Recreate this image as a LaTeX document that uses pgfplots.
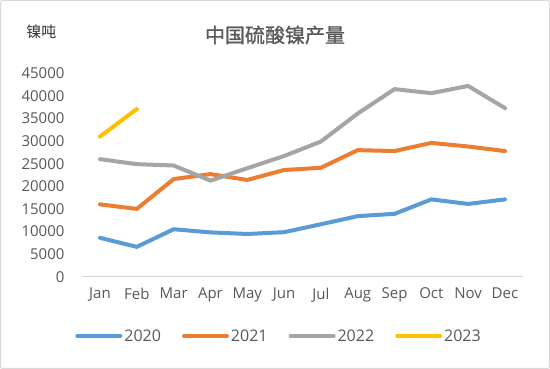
\documentclass[border=0pt]{standalone}
\usepackage{pgfplots}
\pgfplotsset{compat=1.18}
\usepackage{fontspec}
\setmainfont{Open Sans}
\newfontfamily\cjk{Noto Sans CJK SC}
\newfontfamily\cjkt[FakeBold=1.2]{Noto Sans CJK SC}
\definecolor{c2020}{HTML}{5B9BD5}
\definecolor{c2021}{HTML}{ED7D31}
\definecolor{c2022}{HTML}{A5A5A5}
\definecolor{c2023}{HTML}{FFC000}
\definecolor{txt}{HTML}{595959}
\definecolor{axl}{HTML}{D9D9D9}
\begin{document}
\begin{tikzpicture}[x=1pt,y=1pt]
\draw[fill=white, draw=axl, line width=1pt, rounded corners=2pt] (0.5,0.5) rectangle (549.5,368.5);
\node[text=txt, font=\cjkt\fontsize{20}{24}\selectfont] at (275,334) {中国硫酸镍产量};
\node[text=black!80, font=\cjk\fontsize{15}{18}\selectfont] at (41.5,337) {镍吨};
\begin{axis}[
  at={(81.6pt,92.3pt)}, anchor=south west,
  scale only axis, width=441.8pt, height=203.4pt,
  xmin=-0.5, xmax=11.5, ymin=0, ymax=45000,
  xtick={0,...,11},
  xticklabels={Jan,Feb,Mar,Apr,May,Jun,Jul,Aug,Sep,Oct,Nov,Dec},
  ytick={0,5000,...,45000},
  /pgf/number format/1000 sep={},
  /pgf/number format/assume math mode=true,
  scaled y ticks=false,
  axis x line*=bottom, axis y line*=left,
  x axis line style={draw=axl, line width=1pt, -},
  y axis line style={draw=none},
  tick style={draw=none},
  ticklabel style={font=\fontsize{15}{18}\selectfont, text=txt},
  yticklabel style={anchor=east, inner sep=0pt, xshift=-17pt},
  xticklabel style={anchor=north, inner sep=0pt, yshift=-11pt},
  clip=false,
  every axis plot/.append style={line width=4pt, line cap=round, line join=round},
  legend columns=4,
  legend style={at={(0.447,-0.2916)}, anchor=center, draw=none, fill=none,
    font=\fontsize{16}{19}\selectfont, text=txt,
    /tikz/every even column/.append style={column sep=19pt},
    nodes={inner sep=2pt}},
  legend image code/.code={\draw[#1, line width=4pt, line cap=round] (0pt,0pt) -- (43pt,0pt);},
]
\addplot[c2020] coordinates {(0,8600) (1,6600) (2,10500) (3,9800) (4,9450) (5,9850) (6,11600) (7,13400) (8,13900) (9,17100) (10,16100) (11,17100)};
\addlegendentry{2020}
\addplot[c2021] coordinates {(0,16000) (1,15000) (2,21600) (3,22700) (4,21400) (5,23600) (6,24100) (7,28000) (8,27800) (9,29600) (10,28800) (11,27800)};
\addlegendentry{2021}
\addplot[c2022] coordinates {(0,26000) (1,24900) (2,24600) (3,21250) (4,24000) (5,26700) (6,29900) (7,36100) (8,41500) (9,40600) (10,42200) (11,37300)};
\addlegendentry{2022}
\addplot[c2023] coordinates {(0,31000) (1,37100)};
\addlegendentry{2023}
\end{axis}
\end{tikzpicture}
\end{document}
